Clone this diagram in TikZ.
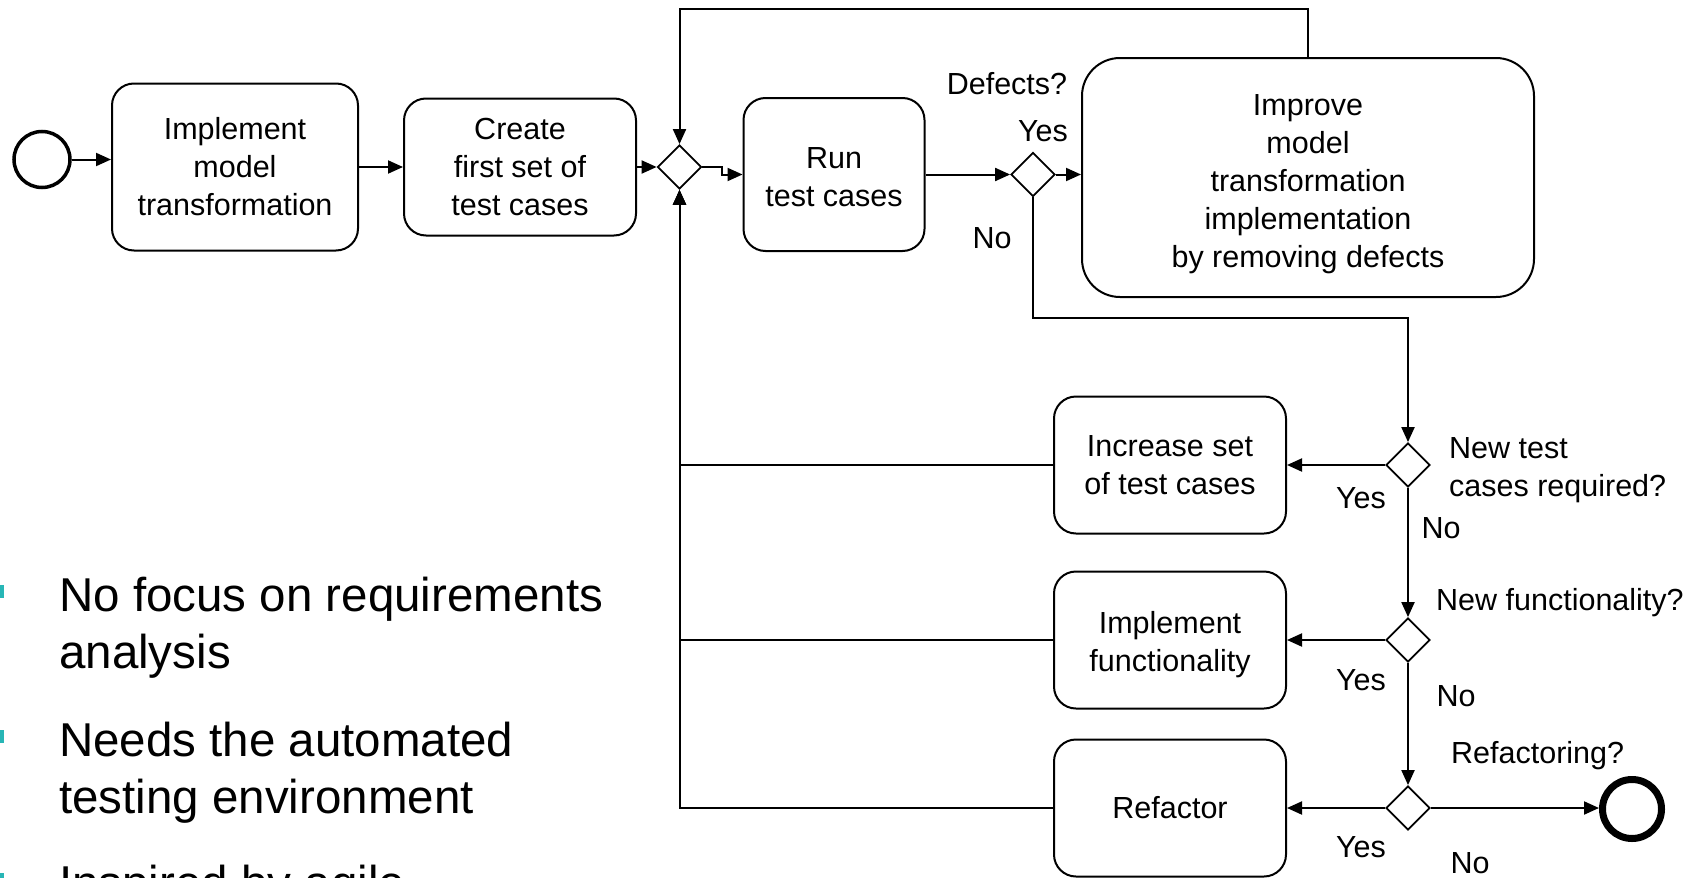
\documentclass[tikz,border=0pt]{standalone}
\usepackage{fontspec}
\setmainfont{Liberation Sans}
\usetikzlibrary{shapes.geometric,arrows.meta,calc}
\newcommand{\bxf}{\fontsize{30.5}{38}\selectfont}
\newcommand{\blf}{\fontsize{47.5}{57}\selectfont}
\definecolor{bulc}{RGB}{40,182,182}
\begin{document}
\begin{tikzpicture}[x=1pt,y=-1pt,
 box/.style={draw, line width=2pt, rounded corners=22pt, align=center, font=\bxf, inner sep=0pt},
 gw/.style={draw, diamond, aspect=1, line width=1.8pt, minimum size=44pt, inner sep=0pt},
 lbl/.style={font=\bxf, inner sep=0pt},
 arr/.style={line width=2pt, -{Triangle[length=15pt,width=13pt]}},
 bul/.style={font=\blf, align=left, inner sep=0pt, anchor=base west}
]
\useasboundingbox (0,0) rectangle (1700,878);
% nodes
\node[draw, circle, line width=3.5pt, minimum size=56pt, inner sep=0pt] (st) at (42,159.5) {};
\node[box, minimum width=246pt, minimum height=167pt] (b1) at (235,167) {Implement\\model\\transformation};
\node[box, minimum width=232pt, minimum height=137pt] (b2) at (520,167) {Create\\first set of\\test cases};
\node[gw] (d1) at (679.5,167) {};
\node[box, minimum width=181pt, minimum height=153pt] (run) at (834,174.5) {\rule{0pt}{26pt}Run\\test cases};
\node[gw] (d2) at (1033,174.5) {};
\node[box, rounded corners=38pt, minimum width=452pt, minimum height=239pt] (imp) at (1308,177.5) {\rule{0pt}{34pt}Improve\\model\\transformation\\implementation\\by removing defects};
\node[gw] (d3) at (1408,465) {};
\node[box, minimum width=232pt, minimum height=137pt] (inc) at (1170,465) {Increase set\\of test cases};
\node[gw] (d4) at (1408,640) {};
\node[box, minimum width=232pt, minimum height=137pt] (impf) at (1170,640) {\rule{0pt}{32pt}Implement\\functionality};
\node[gw] (d5) at (1408,808) {};
\node[box, minimum width=232pt, minimum height=137pt] (ref) at (1170,808) {Refactor};
\node[draw, circle, line width=7pt, minimum size=59pt, inner sep=0pt] (en) at (1632,809) {};
% labels
\node[lbl] at (1007,84) {Defects?};
\node[lbl] at (1043,131) {Yes};
\node[lbl] at (992,238) {No};
\node[lbl, align=left, anchor=west] at (1449,470) {New test\\cases required?};
\node[lbl] at (1361,498) {Yes};
\node[lbl] at (1441,528) {No};
\node[lbl, anchor=west] at (1436,603) {New functionality?};
\node[lbl] at (1361,680) {Yes};
\node[lbl] at (1456,696) {No};
\node[lbl, anchor=west] at (1451,756) {Refactoring?};
\node[lbl] at (1361,847) {Yes};
\node[lbl] at (1470,863) {No};
% bullets
\fill[bulc] (-6,585) rectangle (3.5,598);
\fill[bulc] (-6,730) rectangle (3.5,743);
\fill[bulc] (-6,873) rectangle (3.5,886);
\node[bul] (p1) at (59,668) {No focus on requirements\\analysis};
\node[bul] (p2) at (59,813) {Needs the automated\\testing environment};
\node[bul] (p3) at (59,899) {Inspired by agile};
% connectors
\draw[arr] (st.east) -- (st.east -| b1.west);
\draw[arr] (b1.east |- d1.west) -- (b2.west |- d1.west);
\draw[arr] (b2.east |- d1.west) -- (d1.west);
\draw[arr] (d1.east) -- ++(20,0) |- (run.west);
\draw[arr] (run.east) -- (d2.west);
\draw[arr] (d2.east) -- (d2.east -| imp.west);
\draw[arr] (imp.north) -- ++(0,-48) -| (d1.north);
\draw[arr] (d2.south) -- ++(0,121) -| (d3.north);
\draw[arr] (d3.west) -- (inc.east);
\draw[arr] (d3.south) -- (d4.north);
\draw[arr] (d4.west) -- (impf.east);
\draw[arr] (d4.south) -- (d5.north);
\draw[arr] (d5.west) -- (ref.east);
\draw[arr] (d5.east) -- (d5.east -| en.west);
\draw[arr] (inc.west) -| (d1.south);
\draw[arr] (impf.west) -| (d1.south);
\draw[arr] (ref.west) -| (d1.south);
\end{tikzpicture}
\end{document}
